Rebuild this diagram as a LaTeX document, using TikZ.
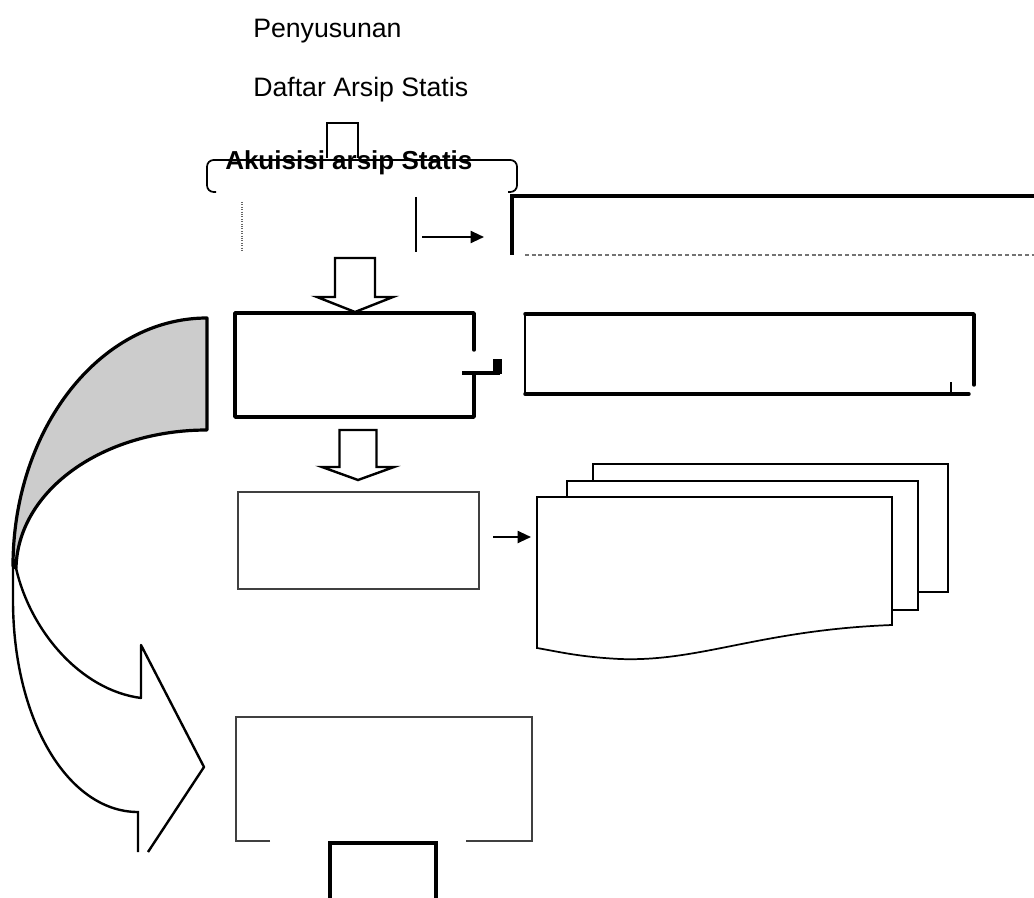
\documentclass[tikz,border=0pt]{standalone}
\usepackage{fontspec}
\setmainfont{Liberation Sans}
\usetikzlibrary{arrows.meta}

\begin{document}
\begin{tikzpicture}[x=0.75pt, y=-0.75pt,
  lbl/.style={anchor=base west, inner sep=0pt, font=\fontsize{20}{24}\selectfont},
  hdr/.style={anchor=base west, inner sep=0pt, font=\bfseries\fontsize{19.5}{24}\selectfont},
  thickbox/.style={line width=2.6pt, line cap=round, line join=round},
  thinbox/.style={line width=1.1pt, black!75},
  blockarr/.style={draw, fill=white, line width=1.8pt, line join=miter},
  arr/.style={-{Triangle[length=10pt, width=9pt]}, line width=1.5pt},
  card/.style={draw, fill=white, line width=1.3pt}
]
  \useasboundingbox (0,0) rectangle (1034,898);

  \node[lbl] (pen) at (253,38) {Penyusunan};
  \node[lbl] (daf) at (253,97) {Daftar Arsip Statis};

  \draw[line width=1.3pt, rounded corners=5pt] (216,192) -- (207,192) -- (207,160) -- (517,160) -- (517,192) -- (508,192);
  \draw[line width=1.4pt] (327,158) -- (327,123) -- (358,123) -- (358,158);
  \node[hdr] (aku) at (225,170) {Akuisisi arsip Statis};

  \coordinate (r1a) at (422,237);
  \coordinate (r1b) at (484,237);
  \draw[densely dotted, line width=0.8pt, black!60] (242,202) -- (242,252);
  \draw[line width=1.7pt] (416,197) -- (416,252);
  \draw[arr] (r1a) -- (r1b);
  \draw[line width=2.6pt] (512,255) -- (512,196) -- (1034,196);
  \draw[densely dashed, line width=0.8pt, black!55] (525,255) -- (1034,255);

  \coordinate (b1) at (355,258);
  \draw[blockarr] (b1) ++(-20,0) -- ++(0,39) -- ++(-18,0) -- ++(38,15) -- ++(38,-15) -- ++(-18,0) -- ++(0,-39) -- cycle;

  \draw[thickbox] (474,350) -- (474,313) -- (235,313) -- (235,417) -- (474,417) -- (474,373);
  \coordinate (c2a) at (462,373);
  \coordinate (c2b) at (500,373);
  \draw[line width=2.6pt] (c2a) -- (c2b);
  \fill (c2b) ++(-7,1) rectangle ++(9,-15);

  \draw[thickbox] (525,314) -- (974,314) -- (974,385);
  \draw[thickbox] (525,394) -- (969,394);
  \draw[line width=1.5pt] (525,314) -- (525,394);
  \draw[line width=1pt] (951,382) -- (951,394);

  \coordinate (b2) at (358,430);
  \draw[blockarr] (b2) ++(-18.5,0) -- ++(0,37) -- ++(-17.5,0) -- ++(36,13) -- ++(36,-13) -- ++(-17.5,0) -- ++(0,-37) -- cycle;

  \draw[thinbox] (238,492) rectangle (479,589);
  \coordinate (r3a) at (493,537);
  \coordinate (r3b) at (531,537);
  \draw[arr] (r3a) -- (r3b);

  \filldraw[card] (593,464) rectangle (948,592);
  \filldraw[card] (567,481) rectangle (918,610);
  \filldraw[card] (537,648) -- (537,497) -- (892,497) -- (892,625)
    .. controls (760,630) and (700,662) .. (620,659)
    .. controls (580,657) and (560,652) .. (537,648) -- cycle;

  \draw[thinbox] (270,841) -- (236,841) -- (236,717) -- (532,717) -- (532,841) -- (466,841);
  \draw[line width=2.6pt] (330,898) -- (330,843) -- (436,843) -- (436,898);

  \filldraw[fill=gray!40, line width=2.4pt, line join=round] (207,318) .. controls (99,318) and (13,430) .. (13,566)
    -- (16,568) .. controls (18,490) and (103,430) .. (207,430) -- cycle;
  \draw[line width=1.8pt] (13,566) -- (13,600) .. controls (13,720) and (68,812) .. (138,812) -- (138,852);
  \draw[line width=1.8pt, line join=round] (148,852) -- (204,767) -- (141,645) -- (141,698)
    .. controls (80,690) and (30,630) .. (16,568);
\end{tikzpicture}
\end{document}
